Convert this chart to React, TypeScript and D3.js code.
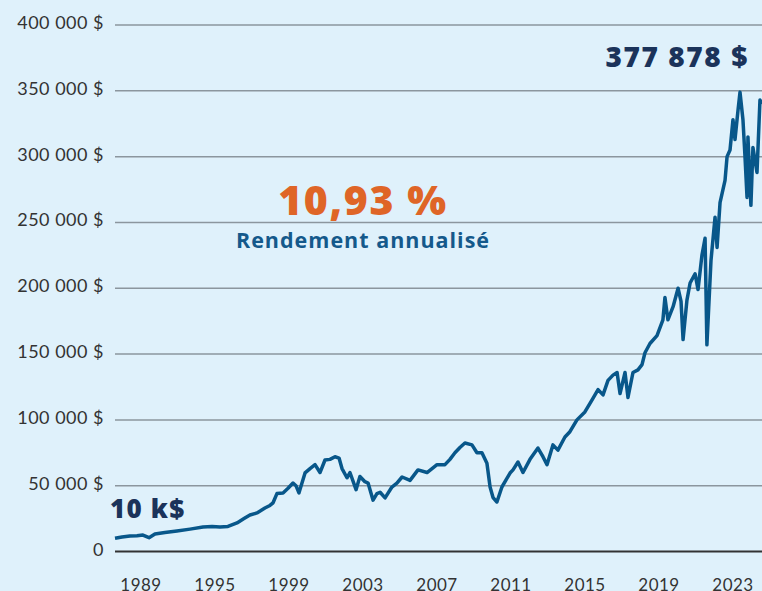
import React, { useEffect, useRef } from 'react';
import * as d3 from 'd3';

// decimal year / portfolio value ($)
const years = [
  1988.5, 1988.88, 1989.31, 1989.69, 1990.01, 1990.34, 1990.66, 1991.2, 1991.85, 1992.56,
  1993.26, 1993.75, 1994.18, 1994.61, 1995.1, 1995.48, 1995.8, 1996.18, 1996.61, 1996.88,
  1997.05, 1997.26, 1997.59, 1997.86, 1998.13, 1998.29, 1998.45, 1998.78, 1999.05, 1999.32,
  1999.59, 1999.86, 2000.13, 2000.4, 2000.62, 2000.78, 2001.05, 2001.21, 2001.54, 2001.75,
  2002.02, 2002.19, 2002.46, 2002.67, 2002.84, 2003.11, 2003.48, 2003.75, 2004.03, 2004.46,
  2004.89, 2005.38, 2005.92, 2006.35, 2006.62, 2006.89, 2007.16, 2007.43, 2007.81, 2008.08,
  2008.35, 2008.62, 2008.79, 2008.95, 2009.16, 2009.43, 2009.87, 2010.03, 2010.3, 2010.57,
  2010.95, 2011.38, 2011.65, 2011.87, 2012.19, 2012.46, 2012.84, 2013.11, 2013.49, 2013.92,
  2014.3, 2014.63, 2014.9, 2015.17, 2015.44, 2015.66, 2015.82, 2016.09, 2016.25, 2016.52,
  2016.79, 2017.01, 2017.17, 2017.44, 2017.82, 2018.14, 2018.25, 2018.41, 2018.69, 2018.96,
  2019.12, 2019.23, 2019.44, 2019.61, 2019.88, 2020.04, 2020.25, 2020.42, 2020.52, 2020.74,
  2020.96, 2021.07, 2021.23, 2021.5, 2021.61, 2021.77, 2021.93, 2022.04, 2022.2, 2022.31,
  2022.47, 2022.58, 2022.69, 2022.74, 2022.9, 2023.01, 2023.23, 2023.39, 2023.5
];

const values = [
  10000, 11000, 11800, 12000, 12500, 10500, 13300, 14500, 15600, 17000,
  18600, 19000, 18600, 19000, 21700, 25000, 27700, 29300, 33000, 35000,
  37000, 44000, 44500, 48000, 52000, 50000, 44500, 59700, 63000, 66000,
  60000, 69500, 70000, 72000, 71000, 63000, 56000, 60000, 47000, 57000,
  53000, 52000, 39000, 44000, 45000, 40700, 49000, 52000, 56600, 54000,
  62000, 60000, 66000, 66000, 70000, 75000, 79000, 82400, 81000, 75000,
  75000, 67000, 49000, 41000, 37600, 49000, 59600, 62000, 68000, 60000,
  70000, 78600, 72000, 66000, 81000, 77000, 87000, 91000, 100000, 106000,
  115000, 123000, 119000, 130000, 134000, 136000, 120000, 136000, 117000, 136000,
  138000, 142000, 151000, 158000, 164000, 176000, 193000, 176000, 186000, 200000,
  190000, 161000, 191000, 204000, 211000, 199000, 225000, 238000, 157000, 221000,
  254000, 231000, 265000, 282000, 300000, 305000, 328000, 313000, 335000, 349000,
  328000, 300000, 269000, 315000, 263000, 307000, 288000, 343000, 340000
];

const yTicks = [0, 50000, 100000, 150000, 200000, 250000, 300000, 350000, 400000];
const xLabels = ['1989', '1995', '1999', '2003', '2007', '2011', '2015', '2019', '2023'];

const finalLabel = '377 878 $';
const startLabel = '10 k$';
const rateLabel = '10,93 %';
const rateCaption = 'Rendement annualisé';

const W = 762;
const H = 591;
const FONT = 'Lato, "Open Sans", sans-serif';
const BOLD = '"Open Sans", Lato, sans-serif';

const fmt = (v: number) => (v === 0 ? '0' : `${d3.format(',')(v).replace(/,/g, ' ')} $`);

const App: React.FC = () => {
  const svgRef = useRef<SVGSVGElement>(null);

  useEffect(() => {
    document.body.style.margin = '0';
    if (!svgRef.current) return;
    const svg = d3.select(svgRef.current);
    svg.selectAll('*').remove();

    const left = 115, right = 762, top = 25, bottom = 551.5;

    const x = d3.scaleLinear().domain([1988.5, 2023.5]).range([left, right]);
    const y = d3.scaleLinear().domain([0, 400000]).range([bottom, top]);
    const xl = d3.scalePoint<string>().domain(xLabels).range([141, 733]);

    svg.append('rect').attr('width', W).attr('height', H).attr('fill', '#dff1fb');

    // grid
    svg.selectAll('.grid')
      .data(yTicks)
      .enter()
      .append('line')
      .attr('x1', left)
      .attr('x2', right)
      .attr('y1', d => y(d))
      .attr('y2', d => y(d))
      .attr('stroke', d => (d === 0 ? '#333' : '#8b969e'))
      .attr('stroke-width', d => (d === 0 ? 2 : 1.5));

    svg.selectAll('.ylab')
      .data(yTicks)
      .enter()
      .append('text')
      .attr('x', 104)
      .attr('y', d => y(d) + 4)
      .attr('text-anchor', 'end')
      .attr('font-family', FONT)
      .attr('font-size', 18)
      .attr('letter-spacing', 0.5)
      .attr('fill', '#333')
      .text(d => fmt(d));

    svg.selectAll('.xlab')
      .data(xLabels)
      .enter()
      .append('text')
      .attr('x', d => xl(d)!)
      .attr('y', 591)
      .attr('text-anchor', 'middle')
      .attr('font-family', FONT)
      .attr('font-size', 17)
      .attr('letter-spacing', 0.5)
      .attr('fill', '#333')
      .text(d => d);

    const pts = years.map((yr, i) => [yr, values[i]] as [number, number]);
    const line = d3.line<[number, number]>()
      .x(d => x(d[0]))
      .y(d => y(d[1]));

    svg.append('path')
      .attr('d', line(pts))
      .attr('fill', 'none')
      .attr('stroke', '#08578a')
      .attr('stroke-width', 3.5)
      .attr('stroke-linejoin', 'round');

    svg.append('text')
      .attr('x', 749)
      .attr('y', 67)
      .attr('text-anchor', 'end')
      .attr('font-family', BOLD)
      .attr('font-weight', 800)
      .attr('font-size', 28)
      .attr('letter-spacing', 1.6)
      .attr('fill', '#1b335a')
      .text(finalLabel);

    svg.append('text')
      .attr('x', 110)
      .attr('y', 518)
      .attr('font-family', BOLD)
      .attr('font-weight', 800)
      .attr('font-size', 26)
      .attr('letter-spacing', 1.2)
      .attr('fill', '#1b335a')
      .text(startLabel);

    svg.append('text')
      .attr('x', 363)
      .attr('y', 215)
      .attr('text-anchor', 'middle')
      .attr('font-family', BOLD)
      .attr('font-weight', 800)
      .attr('font-size', 41)
      .attr('letter-spacing', 1.6)
      .attr('fill', '#df6527')
      .text(rateLabel);

    svg.append('text')
      .attr('x', 363)
      .attr('y', 248)
      .attr('text-anchor', 'middle')
      .attr('font-family', BOLD)
      .attr('font-weight', 700)
      .attr('font-size', 21.5)
      .attr('letter-spacing', 1)
      .attr('fill', '#14598b')
      .text(rateCaption);
  }, []);

  return (
    <svg ref={svgRef} width={W} height={H} style={{ position: 'absolute', left: 0, top: 0 }} />
  );
};

export default App;
